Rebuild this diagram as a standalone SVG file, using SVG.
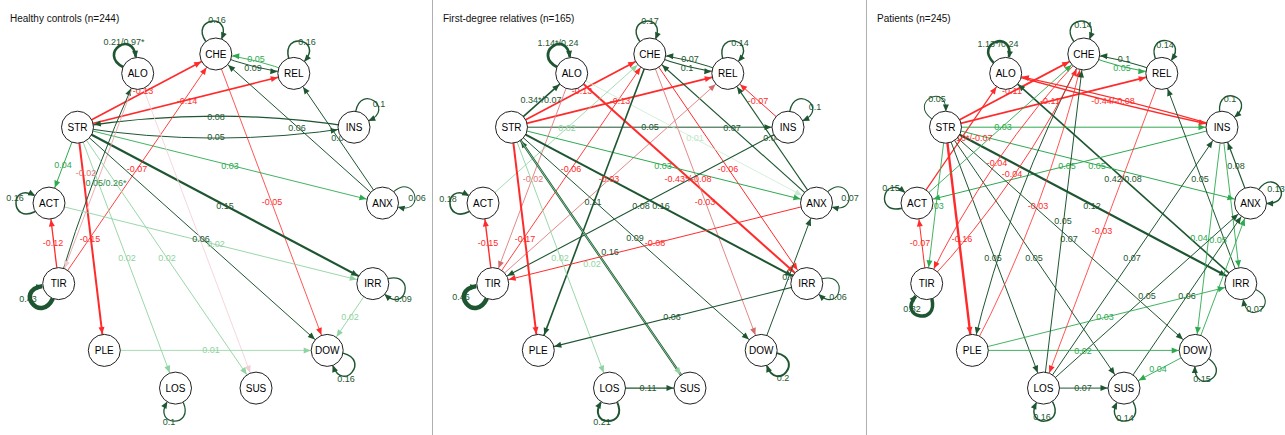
<svg xmlns="http://www.w3.org/2000/svg" width="1285" height="435" viewBox="0 0 1285 435">
<style>
.bg{fill:#fff}
.div{stroke:#b0b0b0;stroke-width:1}
.title{font:10px "Liberation Sans",Arial,sans-serif;fill:#111}
.e{fill:none}
.dg{stroke:#1e5631;marker-end:url(#mDG)}
.g{stroke:#2daa4f;marker-end:url(#mG)}
.lg{stroke:#8fd3a0;marker-end:url(#mLG)}
.vlg{stroke:#c8ebd0;marker-end:url(#mVLG)}
.r{stroke:#ff2b2b;marker-end:url(#mR)}
.lr{stroke:#e07a7a;marker-end:url(#mLR)}
.pk{stroke:#f3d3d7;marker-end:url(#mPK)}
.loop{fill:none;stroke:#1e5631;marker-end:url(#lDG)}
.node circle{fill:#fff;stroke:#222;stroke-width:1}
.node text{font:10px "Liberation Sans",Arial,sans-serif;text-anchor:middle;fill:#000}
.lab text{font:9px "Liberation Sans",Arial,sans-serif;text-anchor:middle}
.tdg{fill:#1e5631}.tg{fill:#2daa4f}.tlg{fill:#8fd3a0}.tvlg{fill:#bfe6c8}.tr{fill:#ff2b2b}.tlr{fill:#e07a7a}.tg2{fill:#2c8a45}
</style>
<defs>
<marker id="mDG" markerWidth="8" markerHeight="6" refX="23.5" refY="3" orient="auto" markerUnits="userSpaceOnUse" overflow="visible"><path d="M0,0L7,3L0,6z" fill="#1e5631"/></marker>
<marker id="mG" markerWidth="8" markerHeight="6" refX="23.5" refY="3" orient="auto" markerUnits="userSpaceOnUse" overflow="visible"><path d="M0,0L7,3L0,6z" fill="#2daa4f"/></marker>
<marker id="mLG" markerWidth="8" markerHeight="6" refX="23.5" refY="3" orient="auto" markerUnits="userSpaceOnUse" overflow="visible"><path d="M0,0L7,3L0,6z" fill="#8fd3a0"/></marker>
<marker id="mVLG" markerWidth="8" markerHeight="6" refX="23.5" refY="3" orient="auto" markerUnits="userSpaceOnUse" overflow="visible"><path d="M0,0L7,3L0,6z" fill="#c8ebd0"/></marker>
<marker id="mR" markerWidth="8" markerHeight="6" refX="23.5" refY="3" orient="auto" markerUnits="userSpaceOnUse" overflow="visible"><path d="M0,0L7,3L0,6z" fill="#ff2b2b"/></marker>
<marker id="mLR" markerWidth="8" markerHeight="6" refX="23.5" refY="3" orient="auto" markerUnits="userSpaceOnUse" overflow="visible"><path d="M0,0L7,3L0,6z" fill="#d46a6a"/></marker>
<marker id="mPK" markerWidth="8" markerHeight="6" refX="23.5" refY="3" orient="auto" markerUnits="userSpaceOnUse" overflow="visible"><path d="M0,0L7,3L0,6z" fill="#efcdd2"/></marker>
<marker id="lDG" markerWidth="8" markerHeight="6" refX="6" refY="3" orient="auto" markerUnits="userSpaceOnUse" overflow="visible"><path d="M0,0L7,3L0,6z" fill="#1e5631"/></marker>
<path id="lp" d="M-10,-12.5C-26,-36 16,-42 6,-15.5"/>
</defs>
<rect class="bg" x="0" y="0" width="1285" height="435"/>
<line class="div" x1="432.5" y1="0" x2="432.5" y2="435"/>
<line class="div" x1="866.5" y1="0" x2="866.5" y2="435"/>

<!-- ============ PANEL 1 ============ -->
<g id="panel-healthy">
<text class="title" x="10" y="22">Healthy controls (n=244)</text>
<g id="p1-edges">
<line class="e r" stroke-width="1.6" x1="77.5" y1="127.2" x2="215.8" y2="54"/>
<line class="e r" stroke-width="1.6" x1="77.5" y1="127.2" x2="293.8" y2="73.4"/>
<path class="e dg" stroke-width="1.2" d="M354,127.2Q216,105 77.5,127.2"/>
<path class="e dg" stroke-width="1" d="M77.5,127.2Q216,149 354,127.2"/>
<line class="e dg" stroke-width="1" x1="382.5" y1="203.1" x2="215.8" y2="54"/>
<line class="e dg" stroke-width="1" x1="382.5" y1="203.1" x2="293.8" y2="73.4"/>
<path class="e dg" stroke-width="1" d="M215.8,54Q253.4,69.5 293.8,73.4"/>
<path class="e g" stroke-width="0.9" d="M293.8,73.4Q256.2,57.9 215.8,54"/>
<line class="e r" stroke-width="0.8" x1="215.8" y1="54" x2="327.2" y2="350.4"/>
<line class="e g" stroke-width="0.9" x1="77.5" y1="127.2" x2="382.5" y2="203.1"/>
<line class="e dg" stroke-width="2.2" x1="77.5" y1="127.2" x2="372.8" y2="283.6"/>
<line class="e g" stroke-width="1" x1="77.5" y1="127.2" x2="49" y2="203.1"/>
<line class="e r" stroke-width="1.3" x1="58.7" y1="283.6" x2="49" y2="203.1"/>
<line class="e r" stroke-width="2" x1="77.5" y1="127.2" x2="104.3" y2="350.4"/>
<path class="e dg" stroke-width="1" d="M58.7,283.6Q90,180 137.7,73.4"/>
<path class="e pk" stroke-width="0.9" style="stroke:#e9a7a7" d="M137.7,73.4Q102,170 58.7,283.6"/>
<line class="e r" stroke-width="0.9" x1="58.7" y1="283.6" x2="215.8" y2="54"/>
<line class="e lg" stroke-width="0.9" x1="49" y1="203.1" x2="372.8" y2="283.6"/>
<line class="e dg" stroke-width="1" x1="77.5" y1="127.2" x2="327.2" y2="350.4"/>
<line class="e lg" stroke-width="0.9" x1="77.5" y1="127.2" x2="175.5" y2="388.1"/>
<line class="e lg" stroke-width="0.9" x1="77.5" y1="127.2" x2="256" y2="388.1"/>
<line class="e pk" stroke-width="0.9" x1="137.7" y1="73.4" x2="256" y2="388.1"/>
<line class="e lg" stroke-width="0.8" x1="104.3" y1="350.4" x2="327.2" y2="350.4"/>
<line class="e lg" stroke-width="0.9" x1="372.8" y1="283.6" x2="327.2" y2="350.4"/>
<use href="#lp" class="loop" stroke-width="2.6" transform="translate(137.7,73.4) rotate(-27.7)"/>
<use href="#lp" class="loop" stroke-width="1.5" transform="translate(215.8,54) rotate(0)"/>
<use href="#lp" class="loop" stroke-width="1.5" transform="translate(293.8,73.4) rotate(20)"/>
<use href="#lp" class="loop" stroke-width="1.3" transform="translate(354,127.2) rotate(45)"/>
<use href="#lp" class="loop" stroke-width="1" transform="translate(382.5,203.1) rotate(83.1)"/>
<use href="#lp" class="loop" stroke-width="1.5" transform="translate(49,203.1) rotate(-83.1)"/>
<use href="#lp" class="loop" stroke-width="4.5" transform="translate(58.7,283.6) rotate(-120)"/>
<use href="#lp" class="loop" stroke-width="1.3" transform="translate(372.8,283.6) rotate(110.8)"/>
<use href="#lp" class="loop" stroke-width="1.5" transform="translate(327.2,350.4) rotate(138.5)"/>
<use href="#lp" class="loop" stroke-width="1.3" transform="translate(175.5,388.1) rotate(-170)"/>
</g>
<g id="p1-labels" class="lab">
<text class="tr" x="143" y="94">-0.13</text>
<text class="tr" x="187" y="104">-0.14</text>
<text class="tdg" x="216" y="120">0.08</text>
<text class="tdg" x="216" y="140">0.05</text>
<text class="tdg" x="297" y="131">0.06</text>
<text class="tdg" x="340" y="141">0.04</text>
<text class="tg" x="256" y="62">0.05</text>
<text class="tdg" x="253" y="71">0.09</text>
<text class="tr" x="272" y="205">-0.05</text>
<text class="tg" x="230" y="169">0.03</text>
<text class="tdg" x="225" y="209">0.15</text>
<text class="tg" x="63" y="168">0.04</text>
<text class="tr" x="53" y="246">-0.12</text>
<text class="tr" x="90" y="242">-0.15</text>
<text class="tg2" x="106" y="186">0.05/0.26*</text>
<text class="tlr" x="86" y="176">-0.02</text>
<text class="tr" x="137" y="172">-0.07</text>
<text class="tlg" x="216" y="247">0.02</text>
<text class="tdg" x="201" y="242">0.06</text>
<text class="tlg" x="127" y="261">0.02</text>
<text class="tlg" x="167" y="261">0.02</text>
<text class="tlg" x="211" y="353">0.01</text>
<text class="tlg" x="350" y="320">0.02</text>
<text class="tdg" x="124" y="45">0.21/0.97*</text>
<text class="tdg" x="217" y="23">0.16</text>
<text class="tdg" x="307" y="45">0.16</text>
<text class="tdg" x="379" y="107">0.1</text>
<text class="tdg" x="417" y="201">0.06</text>
<text class="tdg" x="15" y="201">0.16</text>
<text class="tdg" x="28" y="302">0.43</text>
<text class="tdg" x="403" y="302">0.09</text>
<text class="tdg" x="346" y="382">0.16</text>
<text class="tdg" x="169" y="425">0.1</text>
</g>
<g id="p1-CHE" class="node"><circle cx="215.8" cy="54" r="16"/><text x="215.8" y="57.6">CHE</text></g>
<g id="p1-ALO" class="node"><circle cx="137.7" cy="73.4" r="16"/><text x="137.7" y="77">ALO</text></g>
<g id="p1-STR" class="node"><circle cx="77.5" cy="127.2" r="16"/><text x="77.5" y="130.8">STR</text></g>
<g id="p1-ACT" class="node"><circle cx="49" cy="203.1" r="16"/><text x="49" y="206.7">ACT</text></g>
<g id="p1-TIR" class="node"><circle cx="58.7" cy="283.6" r="16"/><text x="58.7" y="287.2">TIR</text></g>
<g id="p1-PLE" class="node"><circle cx="104.3" cy="350.4" r="16"/><text x="104.3" y="354">PLE</text></g>
<g id="p1-LOS" class="node"><circle cx="175.5" cy="388.1" r="16"/><text x="175.5" y="391.7">LOS</text></g>
<g id="p1-SUS" class="node"><circle cx="256" cy="388.1" r="16"/><text x="256" y="391.7">SUS</text></g>
<g id="p1-DOW" class="node"><circle cx="327.2" cy="350.4" r="16"/><text x="327.2" y="354">DOW</text></g>
<g id="p1-IRR" class="node"><circle cx="372.8" cy="283.6" r="16"/><text x="372.8" y="287.2">IRR</text></g>
<g id="p1-ANX" class="node"><circle cx="382.5" cy="203.1" r="16"/><text x="382.5" y="206.7">ANX</text></g>
<g id="p1-INS" class="node"><circle cx="354" cy="127.2" r="16"/><text x="354" y="130.8">INS</text></g>
<g id="p1-REL" class="node"><circle cx="293.8" cy="73.4" r="16"/><text x="293.8" y="77">REL</text></g>
</g>

<!-- ============ PANEL 2 ============ -->
<g id="panel-relatives" transform="translate(434,0)">
<text class="title" x="9" y="22">First-degree relatives (n=165)</text>
<g id="p2-edges">
<line class="e dg" stroke-width="1.6" x1="77.5" y1="127.2" x2="137.7" y2="73.4"/>
<line class="e r" stroke-width="1.8" x1="77.5" y1="127.2" x2="215.8" y2="54"/>
<line class="e r" stroke-width="1.8" x1="77.5" y1="127.2" x2="293.8" y2="73.4"/>
<line class="e dg" stroke-width="1" x1="77.5" y1="127.2" x2="354" y2="127.2"/>
<line class="e dg" stroke-width="1.1" x1="382.5" y1="203.1" x2="215.8" y2="54"/>
<line class="e dg" stroke-width="1.1" x1="382.5" y1="203.1" x2="293.8" y2="73.4"/>
<path class="e dg" stroke-width="1.1" d="M215.8,54Q253.4,69.5 293.8,73.4"/>
<path class="e dg" stroke-width="1" d="M293.8,73.4Q256.2,57.9 215.8,54"/>
<line class="e r" stroke-width="1" x1="354" y1="127.2" x2="293.8" y2="73.4"/>
<line class="e lr" stroke-width="0.9" x1="58.7" y1="283.6" x2="293.8" y2="73.4"/>
<line class="e r" stroke-width="0.9" x1="58.7" y1="283.6" x2="215.8" y2="54"/>
<line class="e lr" stroke-width="0.9" x1="137.7" y1="73.4" x2="58.7" y2="283.6"/>
<line class="e r" stroke-width="2" x1="137.7" y1="73.4" x2="372.8" y2="283.6"/>
<line class="e r" stroke-width="1" x1="215.8" y1="54" x2="372.8" y2="283.6"/>
<line class="e lr" stroke-width="0.9" x1="215.8" y1="54" x2="327.2" y2="350.4"/>
<line class="e vlg" stroke-width="0.8" x1="137.7" y1="73.4" x2="382.5" y2="203.1"/>
<line class="e g" stroke-width="1" x1="77.5" y1="127.2" x2="382.5" y2="203.1"/>
<line class="e lg" stroke-width="0.8" x1="49" y1="203.1" x2="215.8" y2="54"/>
<line class="e dg" stroke-width="1.1" x1="354" y1="127.2" x2="58.7" y2="283.6"/>
<line class="e dg" stroke-width="2" x1="77.5" y1="127.2" x2="372.8" y2="283.6"/>
<line class="e dg" stroke-width="1.6" x1="215.8" y1="54" x2="104.3" y2="350.4"/>
<line class="e dg" stroke-width="1" x1="77.5" y1="127.2" x2="327.2" y2="350.4"/>
<line class="e dg" stroke-width="2.2" x1="256" y1="388.1" x2="77.5" y2="127.2"/>
<line class="e r" stroke-width="1" x1="382.5" y1="203.1" x2="58.7" y2="283.6"/>
<line class="e r" stroke-width="1.4" x1="58.7" y1="283.6" x2="49" y2="203.1"/>
<line class="e r" stroke-width="2" x1="77.5" y1="127.2" x2="104.3" y2="350.4"/>
<line class="e lg" stroke-width="0.9" x1="77.5" y1="127.2" x2="175.5" y2="388.1"/>
<line class="e lg" stroke-width="0.9" x1="77.5" y1="127.2" x2="256" y2="388.1"/>
<line class="e dg" stroke-width="1.1" x1="372.8" y1="283.6" x2="104.3" y2="350.4"/>
<line class="e dg" stroke-width="1" x1="327.2" y1="350.4" x2="382.5" y2="203.1"/>
<line class="e dg" stroke-width="1.2" x1="175.5" y1="388.1" x2="256" y2="388.1"/>
<use href="#lp" class="loop" stroke-width="2.8" transform="translate(137.7,73.4) rotate(-27.7)"/>
<use href="#lp" class="loop" stroke-width="1.5" transform="translate(215.8,54) rotate(0)"/>
<use href="#lp" class="loop" stroke-width="1.4" transform="translate(293.8,73.4) rotate(20)"/>
<use href="#lp" class="loop" stroke-width="1.3" transform="translate(354,127.2) rotate(45)"/>
<use href="#lp" class="loop" stroke-width="1.1" transform="translate(382.5,203.1) rotate(83.1)"/>
<use href="#lp" class="loop" stroke-width="1.6" transform="translate(49,203.1) rotate(-83.1)"/>
<use href="#lp" class="loop" stroke-width="4.5" transform="translate(58.7,283.6) rotate(-120)"/>
<use href="#lp" class="loop" stroke-width="1.1" transform="translate(372.8,283.6) rotate(110.8)"/>
<use href="#lp" class="loop" stroke-width="2" transform="translate(327.2,350.4) rotate(138.5)"/>
<use href="#lp" class="loop" stroke-width="2" transform="translate(175.5,388.1) rotate(-170)"/>
</g>
<g id="p2-labels" class="lab">
<text class="tdg" x="107" y="103">0.34*/0.07</text>
<text class="tr" x="148" y="94">-0.13</text>
<text class="tr" x="186" y="104">-0.13</text>
<text class="tdg" x="216" y="130">0.05</text>
<text class="tdg" x="298" y="131">0.07</text>
<text class="tdg" x="338" y="141">0.04</text>
<text class="tdg" x="256" y="62">0.07</text>
<text class="tdg" x="253" y="71">0.1</text>
<text class="tr" x="324" y="104">-0.07</text>
<text class="tr" x="175" y="182">-0.03</text>
<text class="tr" x="137" y="172">-0.06</text>
<text class="tlr" x="99" y="182">-0.02</text>
<text class="tr" x="254" y="182">-0.43*/-0.08</text>
<text class="tr" x="294" y="172">-0.06</text>
<text class="tr" x="271" y="205">-0.03</text>
<text class="tvlg" x="261" y="141">0.01</text>
<text class="tg" x="229" y="169">0.03</text>
<text class="tlg" x="133" y="131">0.02</text>
<text class="tdg" x="207" y="209">0.08</text>
<text class="tdg" x="227" y="209">0.16</text>
<text class="tdg" x="159" y="205">0.11</text>
<text class="tdg" x="201" y="241">0.09</text>
<text class="tdg" x="176" y="255">0.16</text>
<text class="tr" x="221" y="246">-0.08</text>
<text class="tr" x="54" y="246">-0.15</text>
<text class="tr" x="91" y="242">-0.17</text>
<text class="tlg" x="126" y="261">0.02</text>
<text class="tlg" x="158" y="267">0.02</text>
<text class="tdg" x="238" y="320">0.06</text>
<text class="tdg" x="357" y="280">0.04</text>
<text class="tdg" x="214" y="391">0.11</text>
<text class="tdg" x="124" y="46">1.14*/0.24</text>
<text class="tdg" x="216" y="24">0.17</text>
<text class="tdg" x="306" y="46">0.14</text>
<text class="tdg" x="381" y="110">0.1</text>
<text class="tdg" x="416" y="201">0.07</text>
<text class="tdg" x="14" y="202">0.18</text>
<text class="tdg" x="27" y="300">0.46</text>
<text class="tdg" x="404" y="300">0.06</text>
<text class="tdg" x="349" y="381">0.2</text>
<text class="tdg" x="168" y="425">0.21</text>
</g>
<g id="p2-CHE" class="node"><circle cx="215.8" cy="54" r="16"/><text x="215.8" y="57.6">CHE</text></g>
<g id="p2-ALO" class="node"><circle cx="137.7" cy="73.4" r="16"/><text x="137.7" y="77">ALO</text></g>
<g id="p2-STR" class="node"><circle cx="77.5" cy="127.2" r="16"/><text x="77.5" y="130.8">STR</text></g>
<g id="p2-ACT" class="node"><circle cx="49" cy="203.1" r="16"/><text x="49" y="206.7">ACT</text></g>
<g id="p2-TIR" class="node"><circle cx="58.7" cy="283.6" r="16"/><text x="58.7" y="287.2">TIR</text></g>
<g id="p2-PLE" class="node"><circle cx="104.3" cy="350.4" r="16"/><text x="104.3" y="354">PLE</text></g>
<g id="p2-LOS" class="node"><circle cx="175.5" cy="388.1" r="16"/><text x="175.5" y="391.7">LOS</text></g>
<g id="p2-SUS" class="node"><circle cx="256" cy="388.1" r="16"/><text x="256" y="391.7">SUS</text></g>
<g id="p2-DOW" class="node"><circle cx="327.2" cy="350.4" r="16"/><text x="327.2" y="354">DOW</text></g>
<g id="p2-IRR" class="node"><circle cx="372.8" cy="283.6" r="16"/><text x="372.8" y="287.2">IRR</text></g>
<g id="p2-ANX" class="node"><circle cx="382.5" cy="203.1" r="16"/><text x="382.5" y="206.7">ANX</text></g>
<g id="p2-INS" class="node"><circle cx="354" cy="127.2" r="16"/><text x="354" y="130.8">INS</text></g>
<g id="p2-REL" class="node"><circle cx="293.8" cy="73.4" r="16"/><text x="293.8" y="77">REL</text></g>
</g>

<!-- ============ PANEL 3 ============ -->
<g id="panel-patients" transform="translate(868,0)">
<text class="title" x="9" y="22">Patients (n=245)</text>
<g id="p3-edges">
<line class="e r" stroke-width="1.8" x1="77.5" y1="127.2" x2="215.8" y2="54"/>
<line class="e r" stroke-width="1.8" x1="77.5" y1="127.2" x2="293.8" y2="73.4"/>
<path class="e r" stroke-width="1.5" d="M137.7,73.4Q245,104 354,127.2"/>
<path class="e r" stroke-width="1.2" d="M354,127.2Q247,96 137.7,73.4"/>
<line class="e dg" stroke-width="1.6" x1="372.8" y1="283.6" x2="137.7" y2="73.4"/>
<line class="e r" stroke-width="1.2" x1="49" y1="203.1" x2="137.7" y2="73.4"/>
<line class="e g" stroke-width="1" x1="77.5" y1="127.2" x2="354" y2="127.2"/>
<line class="e g" stroke-width="1" x1="354" y1="127.2" x2="49" y2="203.1"/>
<line class="e g" stroke-width="1" x1="77.5" y1="127.2" x2="382.5" y2="203.1"/>
<line class="e g" stroke-width="0.9" x1="77.5" y1="127.2" x2="58.7" y2="283.6"/>
<line class="e r" stroke-width="1" x1="58.7" y1="283.6" x2="49" y2="203.1"/>
<line class="e r" stroke-width="2.4" x1="77.5" y1="127.2" x2="104.3" y2="350.4"/>
<line class="e dg" stroke-width="2.2" x1="77.5" y1="127.2" x2="372.8" y2="283.6"/>
<line class="e dg" stroke-width="1" x1="372.8" y1="283.6" x2="293.8" y2="73.4"/>
<line class="e dg" stroke-width="1.2" x1="382.5" y1="203.1" x2="354" y2="127.2"/>
<line class="e dg" stroke-width="1" x1="175.5" y1="388.1" x2="354" y2="127.2"/>
<line class="e g" stroke-width="0.9" x1="354" y1="127.2" x2="327.2" y2="350.4"/>
<line class="e g" stroke-width="0.9" x1="327.2" y1="350.4" x2="382.5" y2="203.1"/>
<line class="e g" stroke-width="0.9" x1="354" y1="127.2" x2="372.8" y2="283.6"/>
<line class="e dg" stroke-width="1" x1="77.5" y1="127.2" x2="175.5" y2="388.1"/>
<line class="e dg" stroke-width="1" x1="77.5" y1="127.2" x2="256" y2="388.1"/>
<line class="e dg" stroke-width="1" x1="175.5" y1="388.1" x2="382.5" y2="203.1"/>
<line class="e dg" stroke-width="1" x1="256" y1="388.1" x2="382.5" y2="203.1"/>
<line class="e g" stroke-width="0.9" x1="104.3" y1="350.4" x2="372.8" y2="283.6"/>
<line class="e g" stroke-width="0.9" x1="104.3" y1="350.4" x2="327.2" y2="350.4"/>
<line class="e g" stroke-width="0.9" x1="327.2" y1="350.4" x2="256" y2="388.1"/>
<line class="e dg" stroke-width="1" x1="175.5" y1="388.1" x2="256" y2="388.1"/>
<line class="e r" stroke-width="0.8" x1="293.8" y1="73.4" x2="175.5" y2="388.1"/>
<path class="e r" stroke-width="0.8" d="M104.3,350.4Q178.8,209.2 215.8,54"/>
<path class="e dg" stroke-width="1" d="M215.8,54Q141.3,195.2 104.3,350.4"/>
<path class="e r" stroke-width="0.9" d="M215.8,54Q119.1,156.4 58.7,283.6"/>
<path class="e r" stroke-width="0.9" d="M58.7,283.6Q155.4,181.2 215.8,54"/>
<line class="e dg" stroke-width="1" x1="175.5" y1="388.1" x2="215.8" y2="54"/>
<line class="e dg" stroke-width="1" x1="77.5" y1="127.2" x2="327.2" y2="350.4"/>
<path class="e g" stroke-width="1" d="M215.8,54Q253.4,69.5 293.8,73.4"/>
<path class="e dg" stroke-width="1.2" d="M293.8,73.4Q256.2,57.9 215.8,54"/>
<line class="e g" stroke-width="0.9" x1="49" y1="203.1" x2="215.8" y2="54"/>
<use href="#lp" class="loop" stroke-width="2.6" transform="translate(137.7,73.4) rotate(-10)"/>
<use href="#lp" class="loop" stroke-width="1" transform="translate(77.5,127.2) rotate(-20)"/>
<use href="#lp" class="loop" stroke-width="1.4" transform="translate(215.8,54) rotate(0)"/>
<use href="#lp" class="loop" stroke-width="1.4" transform="translate(293.8,73.4) rotate(15)"/>
<use href="#lp" class="loop" stroke-width="1.3" transform="translate(354,127.2) rotate(30)"/>
<use href="#lp" class="loop" stroke-width="1.4" transform="translate(382.5,203.1) rotate(70)"/>
<use href="#lp" class="loop" stroke-width="1.4" transform="translate(49,203.1) rotate(-70)"/>
<use href="#lp" class="loop" stroke-width="3.5" transform="translate(58.7,283.6) rotate(-160)"/>
<use href="#lp" class="loop" stroke-width="1.1" transform="translate(372.8,283.6) rotate(150)"/>
<use href="#lp" class="loop" stroke-width="1.4" transform="translate(327.2,350.4) rotate(160)"/>
<use href="#lp" class="loop" stroke-width="1.5" transform="translate(175.5,388.1) rotate(-175)"/>
<use href="#lp" class="loop" stroke-width="1.4" transform="translate(256,388.1) rotate(-175)"/>
</g>
<g id="p3-labels" class="lab">
<text class="tr" x="144" y="94">-0.11</text>
<text class="tr" x="182" y="104">-0.11</text>
<text class="tr" x="245" y="104">-0.44/-0.08</text>
<text class="tdg" x="255" y="182">0.42/0.08</text>
<text class="tg" x="135" y="130">0.03</text>
<text class="tg" x="199" y="169">0.05</text>
<text class="tg" x="229" y="169">0.05</text>
<text class="tg" x="67" y="209">0.03</text>
<text class="tr" x="52" y="246">-0.07</text>
<text class="tr" x="94" y="242">-0.16</text>
<text class="tdg" x="224" y="209">0.12</text>
<text class="tdg" x="332" y="182">0.05</text>
<text class="tdg" x="368" y="169">0.08</text>
<text class="tdg" x="264" y="261">0.07</text>
<text class="tg" x="331" y="241">0.04</text>
<text class="tg" x="350" y="243">0.05</text>
<text class="tdg" x="125" y="261">0.05</text>
<text class="tdg" x="166" y="261">0.05</text>
<text class="tdg" x="279" y="299">0.05</text>
<text class="tdg" x="319" y="299">0.06</text>
<text class="tg" x="237" y="320">0.03</text>
<text class="tg" x="215" y="354">0.02</text>
<text class="tg" x="290" y="372">0.04</text>
<text class="tdg" x="215" y="391">0.07</text>
<text class="tr" x="234" y="234">-0.03</text>
<text class="tr" x="170" y="209">-0.03</text>
<text class="tdg" x="195" y="224">0.05</text>
<text class="tdg" x="201" y="242">0.07</text>
<text class="tdg" x="256" y="62">0.1</text>
<text class="tg" x="254" y="71">0.05</text>
<text class="tr" x="129" y="166">-0.04</text>
<text class="tr" x="144" y="177">-0.04</text>
<text class="tr" x="77.5" y="141" style="text-anchor:start">-0.10*/-0.07</text>
<text class="tdg" x="130" y="47">1.13*/0.24</text>
<text class="tdg" x="69" y="102">0.05</text>
<text class="tdg" x="215" y="28">0.14</text>
<text class="tdg" x="297" y="48">0.14</text>
<text class="tdg" x="362" y="102">0.1</text>
<text class="tdg" x="408" y="192">0.13</text>
<text class="tdg" x="23" y="191">0.15</text>
<text class="tdg" x="44" y="312">0.32</text>
<text class="tdg" x="387" y="312">0.07</text>
<text class="tdg" x="334" y="382">0.15</text>
<text class="tdg" x="174" y="420">0.16</text>
<text class="tdg" x="257" y="421">0.14</text>
</g>
<g id="p3-CHE" class="node"><circle cx="215.8" cy="54" r="16"/><text x="215.8" y="57.6">CHE</text></g>
<g id="p3-ALO" class="node"><circle cx="137.7" cy="73.4" r="16"/><text x="137.7" y="77">ALO</text></g>
<g id="p3-STR" class="node"><circle cx="77.5" cy="127.2" r="16"/><text x="77.5" y="130.8">STR</text></g>
<g id="p3-ACT" class="node"><circle cx="49" cy="203.1" r="16"/><text x="49" y="206.7">ACT</text></g>
<g id="p3-TIR" class="node"><circle cx="58.7" cy="283.6" r="16"/><text x="58.7" y="287.2">TIR</text></g>
<g id="p3-PLE" class="node"><circle cx="104.3" cy="350.4" r="16"/><text x="104.3" y="354">PLE</text></g>
<g id="p3-LOS" class="node"><circle cx="175.5" cy="388.1" r="16"/><text x="175.5" y="391.7">LOS</text></g>
<g id="p3-SUS" class="node"><circle cx="256" cy="388.1" r="16"/><text x="256" y="391.7">SUS</text></g>
<g id="p3-DOW" class="node"><circle cx="327.2" cy="350.4" r="16"/><text x="327.2" y="354">DOW</text></g>
<g id="p3-IRR" class="node"><circle cx="372.8" cy="283.6" r="16"/><text x="372.8" y="287.2">IRR</text></g>
<g id="p3-ANX" class="node"><circle cx="382.5" cy="203.1" r="16"/><text x="382.5" y="206.7">ANX</text></g>
<g id="p3-INS" class="node"><circle cx="354" cy="127.2" r="16"/><text x="354" y="130.8">INS</text></g>
<g id="p3-REL" class="node"><circle cx="293.8" cy="73.4" r="16"/><text x="293.8" y="77">REL</text></g>
</g>
</svg>
